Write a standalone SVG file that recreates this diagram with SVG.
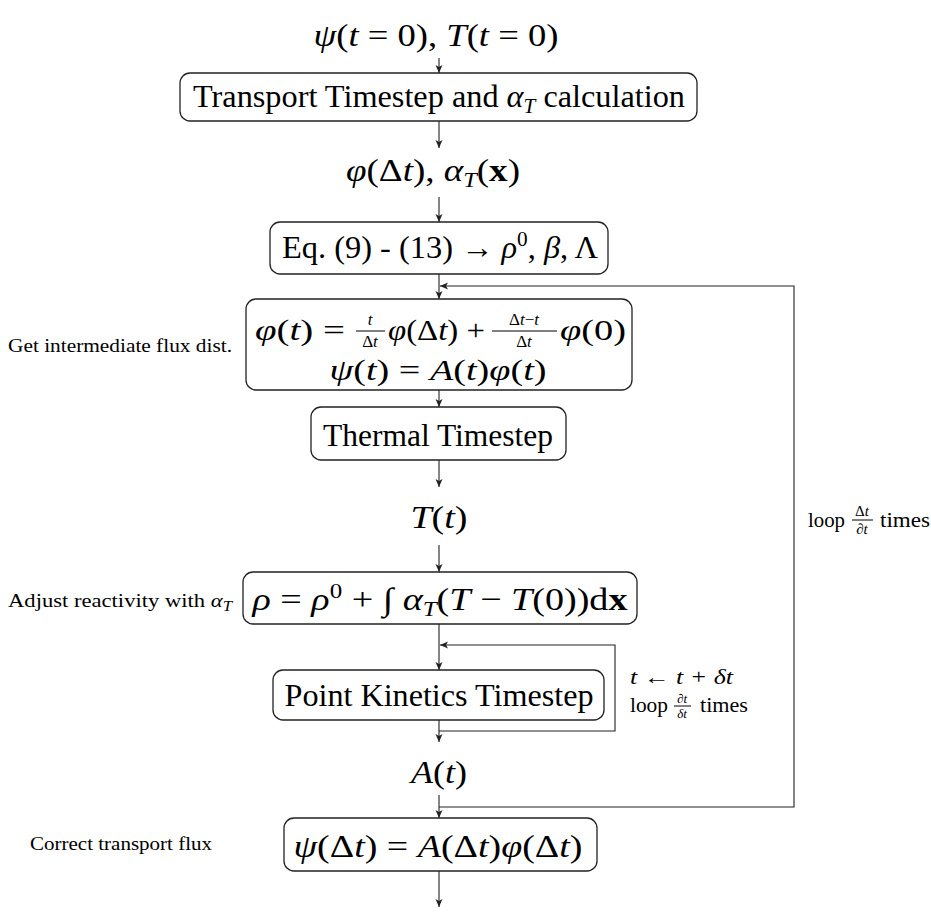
<svg xmlns="http://www.w3.org/2000/svg" width="931" height="913" viewBox="0 0 931 913">
<style>
text{font-family:"Liberation Serif","DejaVu Serif",serif;fill:#000}
.m{font-size:32px}
.m2{font-size:29px}
.s{font-size:20px}
.f{font-size:17px}
.l{font-size:19px}
.i{font-style:italic}
.b{font-weight:bold}
.box{fill:#fff;stroke:#222;stroke-width:1.3}
.conn{fill:none;stroke:#222;stroke-width:1.1}
.arr{marker-end:url(#ah)}
.bar{stroke:#000;stroke-width:1}
</style>
<defs>
<marker id="ah" markerUnits="userSpaceOnUse" markerWidth="10" markerHeight="8" refX="8" refY="3.5" orient="auto">
<path d="M0,0 L8,3.5 L0,7 L2,3.5 z" fill="#222"/>
</marker>
</defs>
<g id="connectors">
<line class="conn arr" x1="439" y1="58" x2="439" y2="73"/>
<line class="conn arr" x1="439" y1="121" x2="439" y2="148"/>
<line class="conn arr" x1="439" y1="197" x2="439" y2="222"/>
<line class="conn arr" x1="439" y1="274" x2="439" y2="299"/>
<line class="conn arr" x1="439" y1="390" x2="439" y2="407"/>
<line class="conn arr" x1="439" y1="460" x2="439" y2="487"/>
<line class="conn arr" x1="439" y1="545" x2="439" y2="572"/>
<line class="conn arr" x1="439" y1="624" x2="439" y2="670"/>
<line class="conn arr" x1="439" y1="720" x2="439" y2="742"/>
<line class="conn arr" x1="439" y1="795" x2="439" y2="818"/>
<line class="conn arr" x1="439" y1="871" x2="439" y2="907"/>
<polyline class="conn arr" points="439,731 615,731 615,645 440,645"/>
<polyline class="conn arr" points="439,807 794,807 794,286 440,286"/>
</g>
<g id="start">
<text class="m" x="436" y="46" text-anchor="middle" textLength="245" lengthAdjust="spacingAndGlyphs"><tspan class="i">ψ</tspan>(<tspan class="i">t</tspan> = 0), <tspan class="i">T</tspan>(<tspan class="i">t</tspan> = 0)</text>
</g>
<g id="transport">
<rect class="box" x="180" y="73" width="517" height="48" rx="10"/>
<text class="m" x="439" y="107" text-anchor="middle" textLength="492" lengthAdjust="spacingAndGlyphs">Transport Timestep and <tspan class="i">α</tspan><tspan class="i" font-size="21" dy="6">T</tspan><tspan dy="-6"> calculation</tspan></text>
</g>
<g id="flux-alpha">
<text class="m" x="433" y="181" text-anchor="middle" textLength="174" lengthAdjust="spacingAndGlyphs"><tspan class="i">φ</tspan>(Δ<tspan class="i">t</tspan>), <tspan class="i">α</tspan><tspan class="i" font-size="21" dy="6">T</tspan><tspan dy="-6">(</tspan><tspan class="b">x</tspan>)</text>
</g>
<g id="equations">
<rect class="box" x="270" y="222" width="338" height="52" rx="10"/>
<text class="m" x="440" y="258" text-anchor="middle" textLength="316" lengthAdjust="spacingAndGlyphs">Eq. (9) - (13) → <tspan class="i">ρ</tspan><tspan font-size="21" dy="-12">0</tspan><tspan dy="12">, </tspan><tspan class="i">β</tspan>, Λ</text>
</g>
<g id="intermediate">
<rect class="box" x="246" y="299" width="386" height="91" rx="10"/>
<text class="m2" x="255" y="340" textLength="90" lengthAdjust="spacingAndGlyphs"><tspan class="i">φ</tspan>(<tspan class="i">t</tspan>) =</text>
<text class="f i" x="370" y="325" text-anchor="middle">t</text>
<line class="bar" x1="356" y1="331" x2="385" y2="331"/>
<text class="f" x="370" y="347" text-anchor="middle">Δ<tspan class="i">t</tspan></text>
<text class="m2" x="388" y="340" textLength="97" lengthAdjust="spacingAndGlyphs"><tspan class="i">φ</tspan>(Δ<tspan class="i">t</tspan>) +</text>
<text class="f" x="524" y="325" text-anchor="middle">Δ<tspan class="i">t</tspan>−<tspan class="i">t</tspan></text>
<line class="bar" x1="492" y1="331" x2="557" y2="331"/>
<text class="f" x="524" y="347" text-anchor="middle">Δ<tspan class="i">t</tspan></text>
<text class="m2" x="560" y="340" textLength="66" lengthAdjust="spacingAndGlyphs"><tspan class="i">φ</tspan>(0)</text>
<text class="m2" x="438" y="380" text-anchor="middle" textLength="217" lengthAdjust="spacingAndGlyphs"><tspan class="i">ψ</tspan>(<tspan class="i">t</tspan>) = <tspan class="i">A</tspan>(<tspan class="i">t</tspan>)<tspan class="i">φ</tspan>(<tspan class="i">t</tspan>)</text>
<text class="l" x="8" y="352" textLength="224" lengthAdjust="spacingAndGlyphs">Get intermediate flux dist.</text>
</g>
<g id="thermal">
<rect class="box" x="311" y="407" width="255" height="53" rx="10"/>
<text class="m" x="438" y="446" text-anchor="middle" textLength="230" lengthAdjust="spacingAndGlyphs">Thermal Timestep</text>
</g>
<g id="temperature">
<text class="m" x="439" y="528" text-anchor="middle" textLength="57" lengthAdjust="spacingAndGlyphs"><tspan class="i">T</tspan>(<tspan class="i">t</tspan>)</text>
</g>
<g id="reactivity">
<rect class="box" x="243" y="572" width="394" height="52" rx="10"/>
<text class="m" x="440" y="610" text-anchor="middle" textLength="375" lengthAdjust="spacingAndGlyphs"><tspan class="i">ρ</tspan> = <tspan class="i">ρ</tspan><tspan font-size="21" dy="-12">0</tspan><tspan dy="12"> + ∫ </tspan><tspan class="i">α</tspan><tspan class="i" font-size="21" dy="6">T</tspan><tspan dy="-6">(</tspan><tspan class="i">T</tspan> − <tspan class="i">T</tspan>(0))d<tspan class="b">x</tspan></text>
<text class="l" x="8" y="607" textLength="224" lengthAdjust="spacingAndGlyphs">Adjust reactivity with <tspan class="i">α</tspan><tspan class="i" font-size="14" dy="4">T</tspan></text>
</g>
<g id="point-kinetics">
<rect class="box" x="273" y="670" width="331" height="50" rx="10"/>
<text class="m" x="439" y="706" text-anchor="middle" textLength="309" lengthAdjust="spacingAndGlyphs">Point Kinetics Timestep</text>
<text class="s i" x="630" y="684" textLength="103" lengthAdjust="spacingAndGlyphs">t ← t + δt</text>
<text class="s" x="630" y="712" textLength="38" lengthAdjust="spacingAndGlyphs">loop</text>
<text class="i" font-size="13" x="682" y="703" text-anchor="middle">∂t</text>
<line class="bar" x1="674" y1="706" x2="691" y2="706" stroke-width="0.8"/>
<text class="i" font-size="13" x="682" y="718" text-anchor="middle">δt</text>
<text class="s" x="700" y="712" textLength="48" lengthAdjust="spacingAndGlyphs">times</text>
</g>
<g id="amplitude">
<text class="m" x="439" y="783" text-anchor="middle" textLength="56" lengthAdjust="spacingAndGlyphs"><tspan class="i">A</tspan>(<tspan class="i">t</tspan>)</text>
<text class="s" x="808" y="527" textLength="37" lengthAdjust="spacingAndGlyphs">loop</text>
<text font-size="15" x="862" y="516" text-anchor="middle">Δ<tspan class="i">t</tspan></text>
<line class="bar" x1="852" y1="520" x2="873" y2="520" stroke-width="0.8"/>
<text class="i" font-size="15" x="862" y="534" text-anchor="middle">∂t</text>
<text class="s" x="880" y="527" textLength="50" lengthAdjust="spacingAndGlyphs">times</text>
</g>
<g id="correct">
<rect class="box" x="284" y="818" width="313" height="53" rx="10"/>
<text class="m" x="438" y="857" text-anchor="middle" textLength="289" lengthAdjust="spacingAndGlyphs"><tspan class="i">ψ</tspan>(Δ<tspan class="i">t</tspan>) = <tspan class="i">A</tspan>(Δ<tspan class="i">t</tspan>)<tspan class="i">φ</tspan>(Δ<tspan class="i">t</tspan>)</text>
<text class="l" x="30" y="850" textLength="182" lengthAdjust="spacingAndGlyphs">Correct transport flux</text>
</g>
</svg>
